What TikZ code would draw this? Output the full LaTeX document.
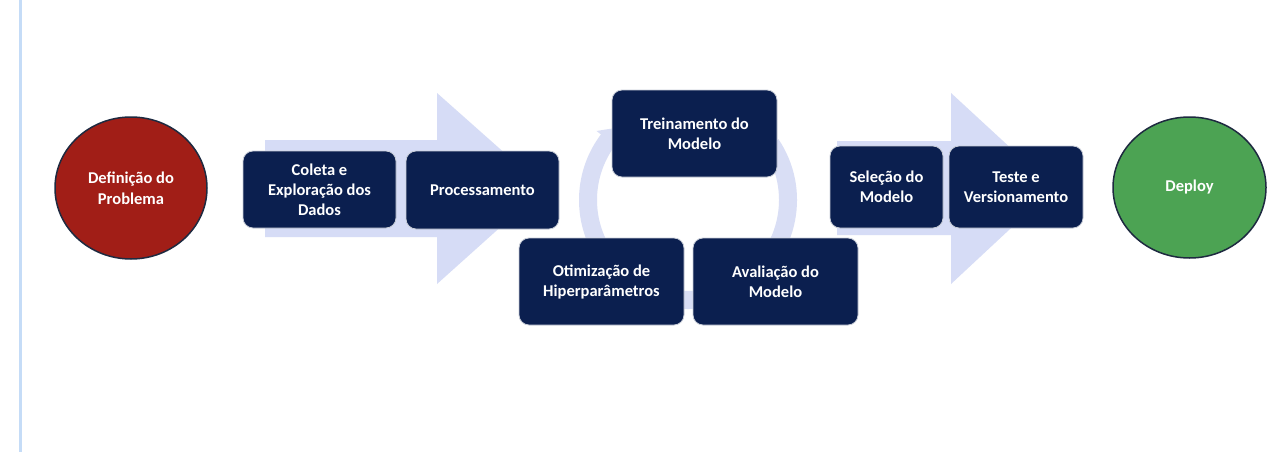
\documentclass[tikz,border=0pt]{standalone}
\usepackage{fontspec}
\setmainfont{Carlito}
\usetikzlibrary{arrows.meta,bending,shapes.geometric}
\definecolor{navy}{HTML}{0B1F4F}
\definecolor{boxedge}{HTML}{C9CED8}
\definecolor{arrowfill}{HTML}{D6DCF6}
\definecolor{ringcol}{HTML}{D9DEF5}
\definecolor{redfill}{HTML}{A11E17}
\definecolor{greenfill}{HTML}{4CA353}
\definecolor{circedge}{HTML}{1E2A40}
\definecolor{sideline}{HTML}{C5DCF7}
\tikzset{
  stepbox/.style={draw=boxedge, line width=0.8pt, fill=navy, rounded corners=10pt,
    text=white, font=\bfseries\fontsize{16.5}{20}\selectfont, align=center, inner sep=2pt},
  endcirc/.style={ellipse, draw=circedge, line width=1.5pt, text=white,
    font=\bfseries\fontsize{16.5}{21}\selectfont, align=center, inner sep=0pt},
  bigarrow/.style={fill=arrowfill, draw=none},
}
\begin{document}
\begin{tikzpicture}[x=1pt,y=-1pt]
\useasboundingbox (0,0) rectangle (1280,452);
\fill[white] (0,0) rectangle (1280,452);
% side line
\fill[sideline] (18.5,0) rectangle (21.5,452);
% big background arrows
\fill[bigarrow] (265,140) -- (437,140) -- (437,93) -- (544,188) -- (437,284) -- (437,237) -- (265,237) -- cycle;
\fill[bigarrow] (837,141) -- (951,141) -- (951,93) -- (1054,188) -- (951,284) -- (951,235) -- (837,235) -- cycle;
% cycle ring
\coordinate (rc) at (688,200);
\draw[ringcol, line width=18pt, -{Triangle[width=28pt,length=16pt,bend]}]
  (rc) ++(-34:100) arc[start angle=-34, end angle=226, radius=100];
% nodes
\node[endcirc, fill=redfill, minimum width=152pt, minimum height=142pt] (def) at (131,188) {Definição do\\Problema};
\node[stepbox, minimum width=153pt, minimum height=77pt] (col) at (319.5,189.5) {Coleta e\\Exploração dos\\Dados};
\node[stepbox, minimum width=153pt, minimum height=78pt] (proc) at (482.5,190) {Processamento};
\node[stepbox, minimum width=165pt, minimum height=87pt] (trein) at (694.5,133.5) {Treinamento do\\Modelo};
\node[stepbox, minimum width=165pt, minimum height=87pt] (otim) at (601.5,281.5) {Otimização de\\Hiperparâmetros};
\node[stepbox, minimum width=165pt, minimum height=87pt] (aval) at (775.5,281.5) {Avaliação do\\Modelo};
\node[stepbox, minimum width=113pt, minimum height=82pt] (sel) at (886.5,187) {Seleção do\\Modelo};
\node[stepbox, minimum width=134pt, minimum height=82pt] (teste) at (1016,187) {Teste e\\Versionamento};
\node[endcirc, fill=greenfill, minimum width=153pt, minimum height=141pt] (deploy) at (1189.5,187.5) {Deploy};
\end{tikzpicture}
\end{document}
